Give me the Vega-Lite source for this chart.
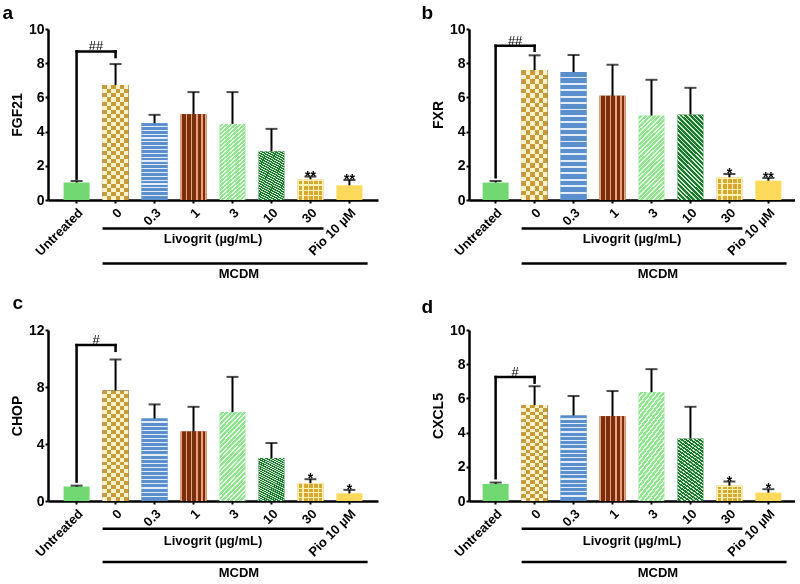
{
"$schema":"https://vega.github.io/schema/vega-lite/v6.json",
"padding":{"left":2,"top":4,"right":0,"bottom":0},
"datasets":{
"ba":[{"g":"Untreated","v":1.02,"e":1.11,"s":""},{"g":"0","v":6.72,"e":7.95,"s":""},{"g":"0.3","v":4.49,"e":4.98,"s":""},{"g":"1","v":5.02,"e":6.31,"s":""},{"g":"3","v":4.45,"e":6.31,"s":""},{"g":"10","v":2.85,"e":4.16,"s":""},{"g":"30","v":1.21,"e":1.37,"s":"**"},{"g":"Pio 10 µM","v":0.86,"e":1.17,"s":"**"}],
"bb":[{"g":"Untreated","v":1.02,"e":1.11,"s":""},{"g":"0","v":7.6,"e":8.46,"s":""},{"g":"0.3","v":7.48,"e":8.48,"s":""},{"g":"1","v":6.09,"e":7.91,"s":""},{"g":"3","v":4.94,"e":7.03,"s":""},{"g":"10","v":5.0,"e":6.56,"s":""},{"g":"30","v":1.33,"e":1.52,"s":"*"},{"g":"Pio 10 µM","v":1.13,"e":1.29,"s":"**"}],
"bc":[{"g":"Untreated","v":1.01,"e":1.08,"s":""},{"g":"0","v":7.76,"e":9.93,"s":""},{"g":"0.3","v":5.79,"e":6.78,"s":""},{"g":"1","v":4.87,"e":6.61,"s":""},{"g":"3","v":6.24,"e":8.71,"s":""},{"g":"10","v":3.01,"e":4.07,"s":""},{"g":"30","v":1.25,"e":1.53,"s":"*"},{"g":"Pio 10 µM","v":0.54,"e":0.78,"s":"*"}],
"bd":[{"g":"Untreated","v":1.0,"e":1.08,"s":""},{"g":"0","v":5.61,"e":6.71,"s":""},{"g":"0.3","v":5.0,"e":6.14,"s":""},{"g":"1","v":4.96,"e":6.43,"s":""},{"g":"3","v":6.37,"e":7.71,"s":""},{"g":"10","v":3.65,"e":5.51,"s":""},{"g":"30","v":0.9,"e":1.14,"s":"*"},{"g":"Pio 10 µM","v":0.49,"e":0.69,"s":"*"}],
"ka":[{"top":8.69,"lo":1.25,"hi":8.36,"lab":"##"}],
"kb":[{"top":9.02,"lo":1.33,"hi":8.73,"lab":"##"}],
"kc":[{"top":10.94,"lo":1.36,"hi":10.54,"lab":"#"}],
"kd":[{"top":7.25,"lo":1.33,"hi":6.92,"lab":"#"}]
},
"spacing":12,
"resolve":{"scale":{"x":"independent","y":"independent","color":"independent"},"axis":{"x":"independent","y":"independent"}},
"vconcat":[
{"hconcat":[
{"title":{"text":"a","dx":-8,"offset":-1},"width":330,"height":171,"data":{"name":"ba"},
"layer":[
{"mark":{"type":"bar"},"encoding":{"x":{"field":"g","type":"nominal","scale":{"domain":["Untreated","0","0.3","1","3","10","30","Pio 10 µM"],"paddingInner":0.333,"paddingOuter":0.4},"axis":{"title":null,"labelAngle":-45}},"y":{"field":"v","type":"quantitative","scale":{"domain":[0,10],"nice":false},"axis":{"tickCount":5,"title":"FGF21"}},"color":{"field":"g","type":"nominal","scale":{"domain":["Untreated","0","0.3","1","3","10","30","Pio 10 µM"],"range":["#72d872","#c99a3a","#5a8fcb","#7b2e0e","#8fe68f","#1a7a2c","#d8a830","#fcd95a"]},"legend":null}}},
{"transform":[{"filter":"datum.g=='0'"}],"mark":{"type":"bar","style":"c0v"},"encoding":{"x":{"field":"g","type":"nominal"},"y":{"field":"v","type":"quantitative"}}},
{"transform":[{"filter":"datum.g=='0'"}],"mark":{"type":"bar","style":"c0h","blend":"difference"},"encoding":{"x":{"field":"g","type":"nominal"},"y":{"field":"v","type":"quantitative"}}},
{"transform":[{"filter":"datum.g=='0'"}],"mark":{"type":"bar","color":"#c99a3a","blend":"screen"},"encoding":{"x":{"field":"g","type":"nominal"},"y":{"field":"v","type":"quantitative"}}},
{"transform":[{"filter":"datum.g=='30'"}],"mark":{"type":"bar","style":"g30v"},"encoding":{"x":{"field":"g","type":"nominal"},"y":{"field":"v","type":"quantitative"}}},
{"transform":[{"filter":"datum.g=='30'"}],"mark":{"type":"bar","style":"g30h"},"encoding":{"x":{"field":"g","type":"nominal"},"y":{"field":"v","type":"quantitative"}}},
{"transform":[{"filter":"datum.g=='3'"}],"mark":{"type":"bar","style":"dg1"},"encoding":{"x":{"field":"g","type":"nominal"},"y":{"field":"v","type":"quantitative"}}},
{"transform":[{"filter":"datum.g=='10'"}],"mark":{"type":"bar","style":"dg2"},"encoding":{"x":{"field":"g","type":"nominal"},"y":{"field":"v","type":"quantitative"}}},
{"transform":[{"filter":"datum.g=='0.3'"}],"mark":{"type":"bar","style":"s03"},"encoding":{"x":{"field":"g","type":"nominal"},"y":{"field":"v","type":"quantitative"}}},
{"transform":[{"filter":"datum.g=='1'"}],"mark":{"type":"bar","style":"s1"},"encoding":{"x":{"field":"g","type":"nominal"},"y":{"field":"v","type":"quantitative"}}},
{"mark":{"type":"rule","color":"black","strokeWidth":2},"encoding":{"x":{"field":"g","type":"nominal"},"y":{"field":"v","type":"quantitative"},"y2":{"field":"e"}}},
{"mark":{"type":"tick","color":"black","thickness":2,"size":12},"encoding":{"x":{"field":"g","type":"nominal"},"y":{"field":"e","type":"quantitative"}}},
{"transform":[{"filter":"datum.s!=''"}],"mark":{"type":"text","fontSize":14,"fontWeight":"bold","baseline":"alphabetic","dy":4},"encoding":{"x":{"field":"g","type":"nominal"},"y":{"field":"e","type":"quantitative"},"text":{"field":"s"}}},
{"data":{"name":"ka"},"mark":{"type":"rule","color":"black","strokeWidth":2.5,"strokeCap":"square"},"encoding":{"x":{"datum":"Untreated"},"x2":{"datum":"0"},"y":{"field":"top","type":"quantitative"}}},
{"data":{"name":"ka"},"mark":{"type":"rule","color":"black","strokeWidth":2.5,"strokeCap":"square"},"encoding":{"x":{"datum":"Untreated"},"y":{"field":"lo","type":"quantitative"},"y2":{"field":"top"}}},
{"data":{"name":"ka"},"mark":{"type":"rule","color":"black","strokeWidth":2.5,"strokeCap":"square"},"encoding":{"x":{"datum":"0"},"y":{"field":"hi","type":"quantitative"},"y2":{"field":"top"}}},
{"data":{"name":"ka"},"mark":{"type":"text","fontSize":13,"baseline":"alphabetic","dy":-1},"encoding":{"x":{"datum":"Untreated","bandPosition":1.25},"y":{"field":"top","type":"quantitative"},"text":{"field":"lab"}}},
{"data":{"values":[{}]},"mark":{"type":"rule","color":"black","strokeWidth":2.5},"encoding":{"x":{"datum":"0","bandPosition":0},"x2":{"datum":"30","bandPosition":1},"y":{"datum":-1.66}}},
{"data":{"values":[{}]},"mark":{"type":"rule","color":"black","strokeWidth":2.5},"encoding":{"x":{"datum":"0","bandPosition":0},"x2":{"datum":"Pio 10 µM","bandPosition":1.2},"y":{"datum":-3.71}}},
{"data":{"values":[{}]},"mark":{"type":"text","fontSize":13,"fontWeight":"bold"},"encoding":{"x":{"datum":"1","bandPosition":1.25},"y":{"datum":-2.28},"text":{"value":"Livogrit (µg/mL)"}}},
{"data":{"values":[{}]},"mark":{"type":"text","fontSize":13,"fontWeight":"bold"},"encoding":{"x":{"datum":"3","bandPosition":0.75},"y":{"datum":-4.33},"text":{"value":"MCDM"}}}
]},
{"title":{"text":"b","dx":-10,"offset":-1},"width":326,"height":171,"data":{"name":"bb"},
"layer":[
{"mark":{"type":"bar"},"encoding":{"x":{"field":"g","type":"nominal","scale":{"domain":["Untreated","0","0.3","1","3","10","30","Pio 10 µM"],"paddingInner":0.333,"paddingOuter":0.35},"axis":{"title":null,"labelAngle":-45}},"y":{"field":"v","type":"quantitative","scale":{"domain":[0,10],"nice":false},"axis":{"tickCount":5,"title":"FXR"}},"color":{"field":"g","type":"nominal","scale":{"domain":["Untreated","0","0.3","1","3","10","30","Pio 10 µM"],"range":["#72d872","#c99a3a","#5a8fcb","#7b2e0e","#8fe68f","#1a7a2c","#d8a830","#fcd95a"]},"legend":null}}},
{"transform":[{"filter":"datum.g=='0'"}],"mark":{"type":"bar","style":"c0v"},"encoding":{"x":{"field":"g","type":"nominal"},"y":{"field":"v","type":"quantitative"}}},
{"transform":[{"filter":"datum.g=='0'"}],"mark":{"type":"bar","style":"c0h","blend":"difference"},"encoding":{"x":{"field":"g","type":"nominal"},"y":{"field":"v","type":"quantitative"}}},
{"transform":[{"filter":"datum.g=='0'"}],"mark":{"type":"bar","color":"#c99a3a","blend":"screen"},"encoding":{"x":{"field":"g","type":"nominal"},"y":{"field":"v","type":"quantitative"}}},
{"transform":[{"filter":"datum.g=='30'"}],"mark":{"type":"bar","style":"g30v"},"encoding":{"x":{"field":"g","type":"nominal"},"y":{"field":"v","type":"quantitative"}}},
{"transform":[{"filter":"datum.g=='30'"}],"mark":{"type":"bar","style":"g30h"},"encoding":{"x":{"field":"g","type":"nominal"},"y":{"field":"v","type":"quantitative"}}},
{"transform":[{"filter":"datum.g=='3'"}],"mark":{"type":"bar","style":"dg1"},"encoding":{"x":{"field":"g","type":"nominal"},"y":{"field":"v","type":"quantitative"}}},
{"transform":[{"filter":"datum.g=='10'"}],"mark":{"type":"bar","style":"dg2"},"encoding":{"x":{"field":"g","type":"nominal"},"y":{"field":"v","type":"quantitative"}}},
{"transform":[{"filter":"datum.g=='0.3'"}],"mark":{"type":"bar","style":"s03"},"encoding":{"x":{"field":"g","type":"nominal"},"y":{"field":"v","type":"quantitative"}}},
{"transform":[{"filter":"datum.g=='1'"}],"mark":{"type":"bar","style":"s1"},"encoding":{"x":{"field":"g","type":"nominal"},"y":{"field":"v","type":"quantitative"}}},
{"mark":{"type":"rule","color":"black","strokeWidth":2},"encoding":{"x":{"field":"g","type":"nominal"},"y":{"field":"v","type":"quantitative"},"y2":{"field":"e"}}},
{"mark":{"type":"tick","color":"black","thickness":2,"size":12},"encoding":{"x":{"field":"g","type":"nominal"},"y":{"field":"e","type":"quantitative"}}},
{"transform":[{"filter":"datum.s!=''"}],"mark":{"type":"text","fontSize":14,"fontWeight":"bold","baseline":"alphabetic","dy":4},"encoding":{"x":{"field":"g","type":"nominal"},"y":{"field":"e","type":"quantitative"},"text":{"field":"s"}}},
{"data":{"name":"kb"},"mark":{"type":"rule","color":"black","strokeWidth":2.5,"strokeCap":"square"},"encoding":{"x":{"datum":"Untreated"},"x2":{"datum":"0"},"y":{"field":"top","type":"quantitative"}}},
{"data":{"name":"kb"},"mark":{"type":"rule","color":"black","strokeWidth":2.5,"strokeCap":"square"},"encoding":{"x":{"datum":"Untreated"},"y":{"field":"lo","type":"quantitative"},"y2":{"field":"top"}}},
{"data":{"name":"kb"},"mark":{"type":"rule","color":"black","strokeWidth":2.5,"strokeCap":"square"},"encoding":{"x":{"datum":"0"},"y":{"field":"hi","type":"quantitative"},"y2":{"field":"top"}}},
{"data":{"name":"kb"},"mark":{"type":"text","fontSize":13,"baseline":"alphabetic","dy":-1},"encoding":{"x":{"datum":"Untreated","bandPosition":1.25},"y":{"field":"top","type":"quantitative"},"text":{"field":"lab"}}},
{"data":{"values":[{}]},"mark":{"type":"rule","color":"black","strokeWidth":2.5},"encoding":{"x":{"datum":"0","bandPosition":0},"x2":{"datum":"30","bandPosition":1},"y":{"datum":-1.66}}},
{"data":{"values":[{}]},"mark":{"type":"rule","color":"black","strokeWidth":2.5},"encoding":{"x":{"datum":"0","bandPosition":0},"x2":{"datum":"Pio 10 µM","bandPosition":1.2},"y":{"datum":-3.71}}},
{"data":{"values":[{}]},"mark":{"type":"text","fontSize":13,"fontWeight":"bold"},"encoding":{"x":{"datum":"1","bandPosition":1.25},"y":{"datum":-2.28},"text":{"value":"Livogrit (µg/mL)"}}},
{"data":{"values":[{}]},"mark":{"type":"text","fontSize":13,"fontWeight":"bold"},"encoding":{"x":{"datum":"3","bandPosition":0.75},"y":{"datum":-4.33},"text":{"value":"MCDM"}}}
]}
],"spacing":43,"resolve":{"scale":{"x":"independent","y":"independent","color":"independent"},"axis":{"x":"independent","y":"independent"}}},
{"hconcat":[
{"title":{"text":"c","dx":2,"offset":10},"width":330,"height":171,"data":{"name":"bc"},
"layer":[
{"mark":{"type":"bar"},"encoding":{"x":{"field":"g","type":"nominal","scale":{"domain":["Untreated","0","0.3","1","3","10","30","Pio 10 µM"],"paddingInner":0.333,"paddingOuter":0.4},"axis":{"title":null,"labelAngle":-45}},"y":{"field":"v","type":"quantitative","scale":{"domain":[0,12],"nice":false},"axis":{"values":[0,4,8,12],"title":"CHOP"}},"color":{"field":"g","type":"nominal","scale":{"domain":["Untreated","0","0.3","1","3","10","30","Pio 10 µM"],"range":["#72d872","#c99a3a","#5a8fcb","#7b2e0e","#8fe68f","#1a7a2c","#d8a830","#fcd95a"]},"legend":null}}},
{"transform":[{"filter":"datum.g=='0'"}],"mark":{"type":"bar","style":"c0v"},"encoding":{"x":{"field":"g","type":"nominal"},"y":{"field":"v","type":"quantitative"}}},
{"transform":[{"filter":"datum.g=='0'"}],"mark":{"type":"bar","style":"c0h","blend":"difference"},"encoding":{"x":{"field":"g","type":"nominal"},"y":{"field":"v","type":"quantitative"}}},
{"transform":[{"filter":"datum.g=='0'"}],"mark":{"type":"bar","color":"#c99a3a","blend":"screen"},"encoding":{"x":{"field":"g","type":"nominal"},"y":{"field":"v","type":"quantitative"}}},
{"transform":[{"filter":"datum.g=='30'"}],"mark":{"type":"bar","style":"g30v"},"encoding":{"x":{"field":"g","type":"nominal"},"y":{"field":"v","type":"quantitative"}}},
{"transform":[{"filter":"datum.g=='30'"}],"mark":{"type":"bar","style":"g30h"},"encoding":{"x":{"field":"g","type":"nominal"},"y":{"field":"v","type":"quantitative"}}},
{"transform":[{"filter":"datum.g=='3'"}],"mark":{"type":"bar","style":"dg1"},"encoding":{"x":{"field":"g","type":"nominal"},"y":{"field":"v","type":"quantitative"}}},
{"transform":[{"filter":"datum.g=='10'"}],"mark":{"type":"bar","style":"dg2"},"encoding":{"x":{"field":"g","type":"nominal"},"y":{"field":"v","type":"quantitative"}}},
{"transform":[{"filter":"datum.g=='0.3'"}],"mark":{"type":"bar","style":"s03"},"encoding":{"x":{"field":"g","type":"nominal"},"y":{"field":"v","type":"quantitative"}}},
{"transform":[{"filter":"datum.g=='1'"}],"mark":{"type":"bar","style":"s1"},"encoding":{"x":{"field":"g","type":"nominal"},"y":{"field":"v","type":"quantitative"}}},
{"mark":{"type":"rule","color":"black","strokeWidth":2},"encoding":{"x":{"field":"g","type":"nominal"},"y":{"field":"v","type":"quantitative"},"y2":{"field":"e"}}},
{"mark":{"type":"tick","color":"black","thickness":2,"size":12},"encoding":{"x":{"field":"g","type":"nominal"},"y":{"field":"e","type":"quantitative"}}},
{"transform":[{"filter":"datum.s!=''"}],"mark":{"type":"text","fontSize":14,"fontWeight":"bold","baseline":"alphabetic","dy":4},"encoding":{"x":{"field":"g","type":"nominal"},"y":{"field":"e","type":"quantitative"},"text":{"field":"s"}}},
{"data":{"name":"kc"},"mark":{"type":"rule","color":"black","strokeWidth":2.5,"strokeCap":"square"},"encoding":{"x":{"datum":"Untreated"},"x2":{"datum":"0"},"y":{"field":"top","type":"quantitative"}}},
{"data":{"name":"kc"},"mark":{"type":"rule","color":"black","strokeWidth":2.5,"strokeCap":"square"},"encoding":{"x":{"datum":"Untreated"},"y":{"field":"lo","type":"quantitative"},"y2":{"field":"top"}}},
{"data":{"name":"kc"},"mark":{"type":"rule","color":"black","strokeWidth":2.5,"strokeCap":"square"},"encoding":{"x":{"datum":"0"},"y":{"field":"hi","type":"quantitative"},"y2":{"field":"top"}}},
{"data":{"name":"kc"},"mark":{"type":"text","fontSize":13,"baseline":"alphabetic","dy":-1},"encoding":{"x":{"datum":"Untreated","bandPosition":1.25},"y":{"field":"top","type":"quantitative"},"text":{"field":"lab"}}},
{"data":{"values":[{}]},"mark":{"type":"rule","color":"black","strokeWidth":2.5},"encoding":{"x":{"datum":"0","bandPosition":0},"x2":{"datum":"30","bandPosition":1},"y":{"datum":-1.94}}},
{"data":{"values":[{}]},"mark":{"type":"rule","color":"black","strokeWidth":2.5},"encoding":{"x":{"datum":"0","bandPosition":0},"x2":{"datum":"Pio 10 µM","bandPosition":1.2},"y":{"datum":-4.28}}},
{"data":{"values":[{}]},"mark":{"type":"text","fontSize":13,"fontWeight":"bold"},"encoding":{"x":{"datum":"1","bandPosition":1.25},"y":{"datum":-2.81},"text":{"value":"Livogrit (µg/mL)"}}},
{"data":{"values":[{}]},"mark":{"type":"text","fontSize":13,"fontWeight":"bold"},"encoding":{"x":{"datum":"3","bandPosition":0.75},"y":{"datum":-5.02},"text":{"value":"MCDM"}}}
]},
{"title":{"text":"d","dx":-10,"offset":6},"width":326,"height":171,"data":{"name":"bd"},
"layer":[
{"mark":{"type":"bar"},"encoding":{"x":{"field":"g","type":"nominal","scale":{"domain":["Untreated","0","0.3","1","3","10","30","Pio 10 µM"],"paddingInner":0.333,"paddingOuter":0.35},"axis":{"title":null,"labelAngle":-45}},"y":{"field":"v","type":"quantitative","scale":{"domain":[0,10],"nice":false},"axis":{"tickCount":5,"title":"CXCL5"}},"color":{"field":"g","type":"nominal","scale":{"domain":["Untreated","0","0.3","1","3","10","30","Pio 10 µM"],"range":["#72d872","#c99a3a","#5a8fcb","#7b2e0e","#8fe68f","#1a7a2c","#d8a830","#fcd95a"]},"legend":null}}},
{"transform":[{"filter":"datum.g=='0'"}],"mark":{"type":"bar","style":"c0v"},"encoding":{"x":{"field":"g","type":"nominal"},"y":{"field":"v","type":"quantitative"}}},
{"transform":[{"filter":"datum.g=='0'"}],"mark":{"type":"bar","style":"c0h","blend":"difference"},"encoding":{"x":{"field":"g","type":"nominal"},"y":{"field":"v","type":"quantitative"}}},
{"transform":[{"filter":"datum.g=='0'"}],"mark":{"type":"bar","color":"#c99a3a","blend":"screen"},"encoding":{"x":{"field":"g","type":"nominal"},"y":{"field":"v","type":"quantitative"}}},
{"transform":[{"filter":"datum.g=='30'"}],"mark":{"type":"bar","style":"g30v"},"encoding":{"x":{"field":"g","type":"nominal"},"y":{"field":"v","type":"quantitative"}}},
{"transform":[{"filter":"datum.g=='30'"}],"mark":{"type":"bar","style":"g30h"},"encoding":{"x":{"field":"g","type":"nominal"},"y":{"field":"v","type":"quantitative"}}},
{"transform":[{"filter":"datum.g=='3'"}],"mark":{"type":"bar","style":"dg1"},"encoding":{"x":{"field":"g","type":"nominal"},"y":{"field":"v","type":"quantitative"}}},
{"transform":[{"filter":"datum.g=='10'"}],"mark":{"type":"bar","style":"dg2"},"encoding":{"x":{"field":"g","type":"nominal"},"y":{"field":"v","type":"quantitative"}}},
{"transform":[{"filter":"datum.g=='0.3'"}],"mark":{"type":"bar","style":"s03"},"encoding":{"x":{"field":"g","type":"nominal"},"y":{"field":"v","type":"quantitative"}}},
{"transform":[{"filter":"datum.g=='1'"}],"mark":{"type":"bar","style":"s1"},"encoding":{"x":{"field":"g","type":"nominal"},"y":{"field":"v","type":"quantitative"}}},
{"mark":{"type":"rule","color":"black","strokeWidth":2},"encoding":{"x":{"field":"g","type":"nominal"},"y":{"field":"v","type":"quantitative"},"y2":{"field":"e"}}},
{"mark":{"type":"tick","color":"black","thickness":2,"size":12},"encoding":{"x":{"field":"g","type":"nominal"},"y":{"field":"e","type":"quantitative"}}},
{"transform":[{"filter":"datum.s!=''"}],"mark":{"type":"text","fontSize":14,"fontWeight":"bold","baseline":"alphabetic","dy":4},"encoding":{"x":{"field":"g","type":"nominal"},"y":{"field":"e","type":"quantitative"},"text":{"field":"s"}}},
{"data":{"name":"kd"},"mark":{"type":"rule","color":"black","strokeWidth":2.5,"strokeCap":"square"},"encoding":{"x":{"datum":"Untreated"},"x2":{"datum":"0"},"y":{"field":"top","type":"quantitative"}}},
{"data":{"name":"kd"},"mark":{"type":"rule","color":"black","strokeWidth":2.5,"strokeCap":"square"},"encoding":{"x":{"datum":"Untreated"},"y":{"field":"lo","type":"quantitative"},"y2":{"field":"top"}}},
{"data":{"name":"kd"},"mark":{"type":"rule","color":"black","strokeWidth":2.5,"strokeCap":"square"},"encoding":{"x":{"datum":"0"},"y":{"field":"hi","type":"quantitative"},"y2":{"field":"top"}}},
{"data":{"name":"kd"},"mark":{"type":"text","fontSize":13,"baseline":"alphabetic","dy":-1},"encoding":{"x":{"datum":"Untreated","bandPosition":1.25},"y":{"field":"top","type":"quantitative"},"text":{"field":"lab"}}},
{"data":{"values":[{}]},"mark":{"type":"rule","color":"black","strokeWidth":2.5},"encoding":{"x":{"datum":"0","bandPosition":0},"x2":{"datum":"30","bandPosition":1},"y":{"datum":-1.62}}},
{"data":{"values":[{}]},"mark":{"type":"rule","color":"black","strokeWidth":2.5},"encoding":{"x":{"datum":"0","bandPosition":0},"x2":{"datum":"Pio 10 µM","bandPosition":1.2},"y":{"datum":-3.57}}},
{"data":{"values":[{}]},"mark":{"type":"text","fontSize":13,"fontWeight":"bold"},"encoding":{"x":{"datum":"1","bandPosition":1.25},"y":{"datum":-2.34},"text":{"value":"Livogrit (µg/mL)"}}},
{"data":{"values":[{}]},"mark":{"type":"text","fontSize":13,"fontWeight":"bold"},"encoding":{"x":{"datum":"3","bandPosition":0.75},"y":{"datum":-4.2},"text":{"value":"MCDM"}}}
]}
],"spacing":43,"resolve":{"scale":{"x":"independent","y":"independent","color":"independent"},"axis":{"x":"independent","y":"independent"}}}
],
"config":{
"font":"Liberation Sans",
"view":{"stroke":null},
"axis":{"domainColor":"black","domainWidth":2.5,"tickColor":"black","tickWidth":2,"tickSize":3,"labelColor":"black","labelFont":"Liberation Sans","labelFontWeight":"bold","labelFontSize":13,"titleFont":"Liberation Sans","titleFontWeight":"bold","titleFontSize":14,"titleColor":"black","grid":false,"labelPadding":1,"labelOverlap":false},
"axisY":{"titlePadding":4,"labelFontSize":14},
"axisX":{"labelPadding":3},
"title":{"anchor":"start","frame":"bounds","fontSize":19,"fontWeight":"bold","font":"Liberation Sans","color":"black"},
"style":{
"c0v":{"color":{"gradient":"linear","x1":0,"y1":0,"x2":1,"y2":0,"stops":[
{"offset":0,"color":"#ffdeb8"},{"offset":0.1667,"color":"#ffdeb8"},{"offset":0.1667,"color":"#000000"},{"offset":0.3333,"color":"#000000"},
{"offset":0.3333,"color":"#ffdeb8"},{"offset":0.5,"color":"#ffdeb8"},{"offset":0.5,"color":"#000000"},{"offset":0.6667,"color":"#000000"},
{"offset":0.6667,"color":"#ffdeb8"},{"offset":0.8333,"color":"#ffdeb8"},{"offset":0.8333,"color":"#000000"},{"offset":1,"color":"#000000"}
]}},
"c0h":{"color":{"gradient":"linear","x1":0,"y1":0,"x2":0,"y2":1,"stops":[
{"offset":0,"color":"#ffdeb8"},{"offset":0.0357,"color":"#ffdeb8"},{"offset":0.0357,"color":"#000000"},{"offset":0.0714,"color":"#000000"},
{"offset":0.0714,"color":"#ffdeb8"},{"offset":0.1071,"color":"#ffdeb8"},{"offset":0.1071,"color":"#000000"},{"offset":0.1429,"color":"#000000"},
{"offset":0.1429,"color":"#ffdeb8"},{"offset":0.1786,"color":"#ffdeb8"},{"offset":0.1786,"color":"#000000"},{"offset":0.2143,"color":"#000000"},
{"offset":0.2143,"color":"#ffdeb8"},{"offset":0.25,"color":"#ffdeb8"},{"offset":0.25,"color":"#000000"},{"offset":0.2857,"color":"#000000"},
{"offset":0.2857,"color":"#ffdeb8"},{"offset":0.3214,"color":"#ffdeb8"},{"offset":0.3214,"color":"#000000"},{"offset":0.3571,"color":"#000000"},
{"offset":0.3571,"color":"#ffdeb8"},{"offset":0.3929,"color":"#ffdeb8"},{"offset":0.3929,"color":"#000000"},{"offset":0.4286,"color":"#000000"},
{"offset":0.4286,"color":"#ffdeb8"},{"offset":0.4643,"color":"#ffdeb8"},{"offset":0.4643,"color":"#000000"},{"offset":0.5,"color":"#000000"},
{"offset":0.5,"color":"#ffdeb8"},{"offset":0.5357,"color":"#ffdeb8"},{"offset":0.5357,"color":"#000000"},{"offset":0.5714,"color":"#000000"},
{"offset":0.5714,"color":"#ffdeb8"},{"offset":0.6071,"color":"#ffdeb8"},{"offset":0.6071,"color":"#000000"},{"offset":0.6429,"color":"#000000"},
{"offset":0.6429,"color":"#ffdeb8"},{"offset":0.6786,"color":"#ffdeb8"},{"offset":0.6786,"color":"#000000"},{"offset":0.7143,"color":"#000000"},
{"offset":0.7143,"color":"#ffdeb8"},{"offset":0.75,"color":"#ffdeb8"},{"offset":0.75,"color":"#000000"},{"offset":0.7857,"color":"#000000"},
{"offset":0.7857,"color":"#ffdeb8"},{"offset":0.8214,"color":"#ffdeb8"},{"offset":0.8214,"color":"#000000"},{"offset":0.8571,"color":"#000000"},
{"offset":0.8571,"color":"#ffdeb8"},{"offset":0.8929,"color":"#ffdeb8"},{"offset":0.8929,"color":"#000000"},{"offset":0.9286,"color":"#000000"},
{"offset":0.9286,"color":"#ffdeb8"},{"offset":0.9643,"color":"#ffdeb8"},{"offset":0.9643,"color":"#000000"},{"offset":1,"color":"#000000"}
]}},
"g30v":{"color":{"gradient":"linear","x1":0,"y1":0,"x2":1,"y2":0,"stops":[
{"offset":0,"color":"#fff0b4"},{"offset":0.05,"color":"#fff0b4"},{"offset":0.05,"color":"rgba(255,240,180,0)"},{"offset":0.19,"color":"rgba(255,240,180,0)"},
{"offset":0.19,"color":"#fff0b4"},{"offset":0.24,"color":"#fff0b4"},{"offset":0.24,"color":"rgba(255,240,180,0)"},{"offset":0.39,"color":"rgba(255,240,180,0)"},
{"offset":0.39,"color":"#fff0b4"},{"offset":0.44,"color":"#fff0b4"},{"offset":0.44,"color":"rgba(255,240,180,0)"},{"offset":0.59,"color":"rgba(255,240,180,0)"},
{"offset":0.59,"color":"#fff0b4"},{"offset":0.64,"color":"#fff0b4"},{"offset":0.64,"color":"rgba(255,240,180,0)"},{"offset":0.79,"color":"rgba(255,240,180,0)"},
{"offset":0.79,"color":"#fff0b4"},{"offset":0.84,"color":"#fff0b4"},{"offset":0.84,"color":"rgba(255,240,180,0)"},{"offset":0.95,"color":"rgba(255,240,180,0)"},
{"offset":0.95,"color":"#fff0b4"},{"offset":1,"color":"#fff0b4"}
]}},
"g30h":{"color":{"gradient":"linear","x1":0,"y1":0,"x2":0,"y2":1,"stops":[
{"offset":0,"color":"#fff0b4"},{"offset":0.07,"color":"#fff0b4"},{"offset":0.07,"color":"rgba(255,240,180,0)"},{"offset":0.25,"color":"rgba(255,240,180,0)"},
{"offset":0.25,"color":"#fff0b4"},{"offset":0.31,"color":"#fff0b4"},{"offset":0.31,"color":"rgba(255,240,180,0)"},{"offset":0.5,"color":"rgba(255,240,180,0)"},
{"offset":0.5,"color":"#fff0b4"},{"offset":0.56,"color":"#fff0b4"},{"offset":0.56,"color":"rgba(255,240,180,0)"},{"offset":0.75,"color":"rgba(255,240,180,0)"},
{"offset":0.75,"color":"#fff0b4"},{"offset":0.81,"color":"#fff0b4"},{"offset":0.81,"color":"rgba(255,240,180,0)"},{"offset":1,"color":"rgba(255,240,180,0)"}
]}},
"dg1":{"color":{"gradient":"linear","x1":0,"y1":0,"x2":0.36,"y2":1.2,"stops":[
{"offset":0,"color":"rgba(255,255,255,0.8)"},{"offset":0.015,"color":"rgba(255,255,255,0.8)"},{"offset":0.015,"color":"rgba(255,255,255,0)"},{"offset":0.04,"color":"rgba(255,255,255,0)"},
{"offset":0.04,"color":"rgba(255,255,255,0.8)"},{"offset":0.055,"color":"rgba(255,255,255,0.8)"},{"offset":0.055,"color":"rgba(255,255,255,0)"},{"offset":0.08,"color":"rgba(255,255,255,0)"},
{"offset":0.08,"color":"rgba(255,255,255,0.8)"},{"offset":0.095,"color":"rgba(255,255,255,0.8)"},{"offset":0.095,"color":"rgba(255,255,255,0)"},{"offset":0.12,"color":"rgba(255,255,255,0)"},
{"offset":0.12,"color":"rgba(255,255,255,0.8)"},{"offset":0.135,"color":"rgba(255,255,255,0.8)"},{"offset":0.135,"color":"rgba(255,255,255,0)"},{"offset":0.16,"color":"rgba(255,255,255,0)"},
{"offset":0.16,"color":"rgba(255,255,255,0.8)"},{"offset":0.175,"color":"rgba(255,255,255,0.8)"},{"offset":0.175,"color":"rgba(255,255,255,0)"},{"offset":0.2,"color":"rgba(255,255,255,0)"},
{"offset":0.2,"color":"rgba(255,255,255,0.8)"},{"offset":0.215,"color":"rgba(255,255,255,0.8)"},{"offset":0.215,"color":"rgba(255,255,255,0)"},{"offset":0.24,"color":"rgba(255,255,255,0)"},
{"offset":0.24,"color":"rgba(255,255,255,0.8)"},{"offset":0.255,"color":"rgba(255,255,255,0.8)"},{"offset":0.255,"color":"rgba(255,255,255,0)"},{"offset":0.28,"color":"rgba(255,255,255,0)"},
{"offset":0.28,"color":"rgba(255,255,255,0.8)"},{"offset":0.295,"color":"rgba(255,255,255,0.8)"},{"offset":0.295,"color":"rgba(255,255,255,0)"},{"offset":0.32,"color":"rgba(255,255,255,0)"},
{"offset":0.32,"color":"rgba(255,255,255,0.8)"},{"offset":0.335,"color":"rgba(255,255,255,0.8)"},{"offset":0.335,"color":"rgba(255,255,255,0)"},{"offset":0.36,"color":"rgba(255,255,255,0)"},
{"offset":0.36,"color":"rgba(255,255,255,0.8)"},{"offset":0.375,"color":"rgba(255,255,255,0.8)"},{"offset":0.375,"color":"rgba(255,255,255,0)"},{"offset":0.4,"color":"rgba(255,255,255,0)"},
{"offset":0.4,"color":"rgba(255,255,255,0.8)"},{"offset":0.415,"color":"rgba(255,255,255,0.8)"},{"offset":0.415,"color":"rgba(255,255,255,0)"},{"offset":0.44,"color":"rgba(255,255,255,0)"},
{"offset":0.44,"color":"rgba(255,255,255,0.8)"},{"offset":0.455,"color":"rgba(255,255,255,0.8)"},{"offset":0.455,"color":"rgba(255,255,255,0)"},{"offset":0.48,"color":"rgba(255,255,255,0)"},
{"offset":0.48,"color":"rgba(255,255,255,0.8)"},{"offset":0.495,"color":"rgba(255,255,255,0.8)"},{"offset":0.495,"color":"rgba(255,255,255,0)"},{"offset":0.52,"color":"rgba(255,255,255,0)"},
{"offset":0.52,"color":"rgba(255,255,255,0.8)"},{"offset":0.535,"color":"rgba(255,255,255,0.8)"},{"offset":0.535,"color":"rgba(255,255,255,0)"},{"offset":0.56,"color":"rgba(255,255,255,0)"},
{"offset":0.56,"color":"rgba(255,255,255,0.8)"},{"offset":0.575,"color":"rgba(255,255,255,0.8)"},{"offset":0.575,"color":"rgba(255,255,255,0)"},{"offset":0.6,"color":"rgba(255,255,255,0)"},
{"offset":0.6,"color":"rgba(255,255,255,0.8)"},{"offset":0.615,"color":"rgba(255,255,255,0.8)"},{"offset":0.615,"color":"rgba(255,255,255,0)"},{"offset":0.64,"color":"rgba(255,255,255,0)"},
{"offset":0.64,"color":"rgba(255,255,255,0.8)"},{"offset":0.655,"color":"rgba(255,255,255,0.8)"},{"offset":0.655,"color":"rgba(255,255,255,0)"},{"offset":0.68,"color":"rgba(255,255,255,0)"},
{"offset":0.68,"color":"rgba(255,255,255,0.8)"},{"offset":0.695,"color":"rgba(255,255,255,0.8)"},{"offset":0.695,"color":"rgba(255,255,255,0)"},{"offset":0.72,"color":"rgba(255,255,255,0)"},
{"offset":0.72,"color":"rgba(255,255,255,0.8)"},{"offset":0.735,"color":"rgba(255,255,255,0.8)"},{"offset":0.735,"color":"rgba(255,255,255,0)"},{"offset":0.76,"color":"rgba(255,255,255,0)"},
{"offset":0.76,"color":"rgba(255,255,255,0.8)"},{"offset":0.775,"color":"rgba(255,255,255,0.8)"},{"offset":0.775,"color":"rgba(255,255,255,0)"},{"offset":0.8,"color":"rgba(255,255,255,0)"},
{"offset":0.8,"color":"rgba(255,255,255,0.8)"},{"offset":0.815,"color":"rgba(255,255,255,0.8)"},{"offset":0.815,"color":"rgba(255,255,255,0)"},{"offset":0.84,"color":"rgba(255,255,255,0)"},
{"offset":0.84,"color":"rgba(255,255,255,0.8)"},{"offset":0.855,"color":"rgba(255,255,255,0.8)"},{"offset":0.855,"color":"rgba(255,255,255,0)"},{"offset":0.88,"color":"rgba(255,255,255,0)"},
{"offset":0.88,"color":"rgba(255,255,255,0.8)"},{"offset":0.895,"color":"rgba(255,255,255,0.8)"},{"offset":0.895,"color":"rgba(255,255,255,0)"},{"offset":0.92,"color":"rgba(255,255,255,0)"},
{"offset":0.92,"color":"rgba(255,255,255,0.8)"},{"offset":0.935,"color":"rgba(255,255,255,0.8)"},{"offset":0.935,"color":"rgba(255,255,255,0)"},{"offset":0.96,"color":"rgba(255,255,255,0)"},
{"offset":0.96,"color":"rgba(255,255,255,0.8)"},{"offset":0.975,"color":"rgba(255,255,255,0.8)"},{"offset":0.975,"color":"rgba(255,255,255,0)"},{"offset":1,"color":"rgba(255,255,255,0)"}
]}},
"dg2":{"color":{"gradient":"linear","x1":0,"y1":1,"x2":0.36,"y2":-0.2,"stops":[
{"offset":0,"color":"rgba(255,255,255,0.8)"},{"offset":0.015,"color":"rgba(255,255,255,0.8)"},{"offset":0.015,"color":"rgba(255,255,255,0)"},{"offset":0.04,"color":"rgba(255,255,255,0)"},
{"offset":0.04,"color":"rgba(255,255,255,0.8)"},{"offset":0.055,"color":"rgba(255,255,255,0.8)"},{"offset":0.055,"color":"rgba(255,255,255,0)"},{"offset":0.08,"color":"rgba(255,255,255,0)"},
{"offset":0.08,"color":"rgba(255,255,255,0.8)"},{"offset":0.095,"color":"rgba(255,255,255,0.8)"},{"offset":0.095,"color":"rgba(255,255,255,0)"},{"offset":0.12,"color":"rgba(255,255,255,0)"},
{"offset":0.12,"color":"rgba(255,255,255,0.8)"},{"offset":0.135,"color":"rgba(255,255,255,0.8)"},{"offset":0.135,"color":"rgba(255,255,255,0)"},{"offset":0.16,"color":"rgba(255,255,255,0)"},
{"offset":0.16,"color":"rgba(255,255,255,0.8)"},{"offset":0.175,"color":"rgba(255,255,255,0.8)"},{"offset":0.175,"color":"rgba(255,255,255,0)"},{"offset":0.2,"color":"rgba(255,255,255,0)"},
{"offset":0.2,"color":"rgba(255,255,255,0.8)"},{"offset":0.215,"color":"rgba(255,255,255,0.8)"},{"offset":0.215,"color":"rgba(255,255,255,0)"},{"offset":0.24,"color":"rgba(255,255,255,0)"},
{"offset":0.24,"color":"rgba(255,255,255,0.8)"},{"offset":0.255,"color":"rgba(255,255,255,0.8)"},{"offset":0.255,"color":"rgba(255,255,255,0)"},{"offset":0.28,"color":"rgba(255,255,255,0)"},
{"offset":0.28,"color":"rgba(255,255,255,0.8)"},{"offset":0.295,"color":"rgba(255,255,255,0.8)"},{"offset":0.295,"color":"rgba(255,255,255,0)"},{"offset":0.32,"color":"rgba(255,255,255,0)"},
{"offset":0.32,"color":"rgba(255,255,255,0.8)"},{"offset":0.335,"color":"rgba(255,255,255,0.8)"},{"offset":0.335,"color":"rgba(255,255,255,0)"},{"offset":0.36,"color":"rgba(255,255,255,0)"},
{"offset":0.36,"color":"rgba(255,255,255,0.8)"},{"offset":0.375,"color":"rgba(255,255,255,0.8)"},{"offset":0.375,"color":"rgba(255,255,255,0)"},{"offset":0.4,"color":"rgba(255,255,255,0)"},
{"offset":0.4,"color":"rgba(255,255,255,0.8)"},{"offset":0.415,"color":"rgba(255,255,255,0.8)"},{"offset":0.415,"color":"rgba(255,255,255,0)"},{"offset":0.44,"color":"rgba(255,255,255,0)"},
{"offset":0.44,"color":"rgba(255,255,255,0.8)"},{"offset":0.455,"color":"rgba(255,255,255,0.8)"},{"offset":0.455,"color":"rgba(255,255,255,0)"},{"offset":0.48,"color":"rgba(255,255,255,0)"},
{"offset":0.48,"color":"rgba(255,255,255,0.8)"},{"offset":0.495,"color":"rgba(255,255,255,0.8)"},{"offset":0.495,"color":"rgba(255,255,255,0)"},{"offset":0.52,"color":"rgba(255,255,255,0)"},
{"offset":0.52,"color":"rgba(255,255,255,0.8)"},{"offset":0.535,"color":"rgba(255,255,255,0.8)"},{"offset":0.535,"color":"rgba(255,255,255,0)"},{"offset":0.56,"color":"rgba(255,255,255,0)"},
{"offset":0.56,"color":"rgba(255,255,255,0.8)"},{"offset":0.575,"color":"rgba(255,255,255,0.8)"},{"offset":0.575,"color":"rgba(255,255,255,0)"},{"offset":0.6,"color":"rgba(255,255,255,0)"},
{"offset":0.6,"color":"rgba(255,255,255,0.8)"},{"offset":0.615,"color":"rgba(255,255,255,0.8)"},{"offset":0.615,"color":"rgba(255,255,255,0)"},{"offset":0.64,"color":"rgba(255,255,255,0)"},
{"offset":0.64,"color":"rgba(255,255,255,0.8)"},{"offset":0.655,"color":"rgba(255,255,255,0.8)"},{"offset":0.655,"color":"rgba(255,255,255,0)"},{"offset":0.68,"color":"rgba(255,255,255,0)"},
{"offset":0.68,"color":"rgba(255,255,255,0.8)"},{"offset":0.695,"color":"rgba(255,255,255,0.8)"},{"offset":0.695,"color":"rgba(255,255,255,0)"},{"offset":0.72,"color":"rgba(255,255,255,0)"},
{"offset":0.72,"color":"rgba(255,255,255,0.8)"},{"offset":0.735,"color":"rgba(255,255,255,0.8)"},{"offset":0.735,"color":"rgba(255,255,255,0)"},{"offset":0.76,"color":"rgba(255,255,255,0)"},
{"offset":0.76,"color":"rgba(255,255,255,0.8)"},{"offset":0.775,"color":"rgba(255,255,255,0.8)"},{"offset":0.775,"color":"rgba(255,255,255,0)"},{"offset":0.8,"color":"rgba(255,255,255,0)"},
{"offset":0.8,"color":"rgba(255,255,255,0.8)"},{"offset":0.815,"color":"rgba(255,255,255,0.8)"},{"offset":0.815,"color":"rgba(255,255,255,0)"},{"offset":0.84,"color":"rgba(255,255,255,0)"},
{"offset":0.84,"color":"rgba(255,255,255,0.8)"},{"offset":0.855,"color":"rgba(255,255,255,0.8)"},{"offset":0.855,"color":"rgba(255,255,255,0)"},{"offset":0.88,"color":"rgba(255,255,255,0)"},
{"offset":0.88,"color":"rgba(255,255,255,0.8)"},{"offset":0.895,"color":"rgba(255,255,255,0.8)"},{"offset":0.895,"color":"rgba(255,255,255,0)"},{"offset":0.92,"color":"rgba(255,255,255,0)"},
{"offset":0.92,"color":"rgba(255,255,255,0.8)"},{"offset":0.935,"color":"rgba(255,255,255,0.8)"},{"offset":0.935,"color":"rgba(255,255,255,0)"},{"offset":0.96,"color":"rgba(255,255,255,0)"},
{"offset":0.96,"color":"rgba(255,255,255,0.8)"},{"offset":0.975,"color":"rgba(255,255,255,0.8)"},{"offset":0.975,"color":"rgba(255,255,255,0)"},{"offset":1,"color":"rgba(255,255,255,0)"}
]}},
"s03":{"color":{"gradient":"linear","x1":0,"y1":0,"x2":0,"y2":1,"stops":[
{"offset":0,"color":"#5a8fcb"},{"offset":0.035,"color":"#5a8fcb"},{"offset":0.035,"color":"#e4edf8"},{"offset":0.05,"color":"#e4edf8"},
{"offset":0.05,"color":"#5a8fcb"},{"offset":0.085,"color":"#5a8fcb"},{"offset":0.085,"color":"#e4edf8"},{"offset":0.1,"color":"#e4edf8"},
{"offset":0.1,"color":"#5a8fcb"},{"offset":0.135,"color":"#5a8fcb"},{"offset":0.135,"color":"#e4edf8"},{"offset":0.15,"color":"#e4edf8"},
{"offset":0.15,"color":"#5a8fcb"},{"offset":0.185,"color":"#5a8fcb"},{"offset":0.185,"color":"#e4edf8"},{"offset":0.2,"color":"#e4edf8"},
{"offset":0.2,"color":"#5a8fcb"},{"offset":0.235,"color":"#5a8fcb"},{"offset":0.235,"color":"#e4edf8"},{"offset":0.25,"color":"#e4edf8"},
{"offset":0.25,"color":"#5a8fcb"},{"offset":0.285,"color":"#5a8fcb"},{"offset":0.285,"color":"#e4edf8"},{"offset":0.3,"color":"#e4edf8"},
{"offset":0.3,"color":"#5a8fcb"},{"offset":0.335,"color":"#5a8fcb"},{"offset":0.335,"color":"#e4edf8"},{"offset":0.35,"color":"#e4edf8"},
{"offset":0.35,"color":"#5a8fcb"},{"offset":0.385,"color":"#5a8fcb"},{"offset":0.385,"color":"#e4edf8"},{"offset":0.4,"color":"#e4edf8"},
{"offset":0.4,"color":"#5a8fcb"},{"offset":0.435,"color":"#5a8fcb"},{"offset":0.435,"color":"#e4edf8"},{"offset":0.45,"color":"#e4edf8"},
{"offset":0.45,"color":"#5a8fcb"},{"offset":0.485,"color":"#5a8fcb"},{"offset":0.485,"color":"#e4edf8"},{"offset":0.5,"color":"#e4edf8"},
{"offset":0.5,"color":"#5a8fcb"},{"offset":0.535,"color":"#5a8fcb"},{"offset":0.535,"color":"#e4edf8"},{"offset":0.55,"color":"#e4edf8"},
{"offset":0.55,"color":"#5a8fcb"},{"offset":0.585,"color":"#5a8fcb"},{"offset":0.585,"color":"#e4edf8"},{"offset":0.6,"color":"#e4edf8"},
{"offset":0.6,"color":"#5a8fcb"},{"offset":0.635,"color":"#5a8fcb"},{"offset":0.635,"color":"#e4edf8"},{"offset":0.65,"color":"#e4edf8"},
{"offset":0.65,"color":"#5a8fcb"},{"offset":0.685,"color":"#5a8fcb"},{"offset":0.685,"color":"#e4edf8"},{"offset":0.7,"color":"#e4edf8"},
{"offset":0.7,"color":"#5a8fcb"},{"offset":0.735,"color":"#5a8fcb"},{"offset":0.735,"color":"#e4edf8"},{"offset":0.75,"color":"#e4edf8"},
{"offset":0.75,"color":"#5a8fcb"},{"offset":0.785,"color":"#5a8fcb"},{"offset":0.785,"color":"#e4edf8"},{"offset":0.8,"color":"#e4edf8"},
{"offset":0.8,"color":"#5a8fcb"},{"offset":0.835,"color":"#5a8fcb"},{"offset":0.835,"color":"#e4edf8"},{"offset":0.85,"color":"#e4edf8"},
{"offset":0.85,"color":"#5a8fcb"},{"offset":0.885,"color":"#5a8fcb"},{"offset":0.885,"color":"#e4edf8"},{"offset":0.9,"color":"#e4edf8"},
{"offset":0.9,"color":"#5a8fcb"},{"offset":0.935,"color":"#5a8fcb"},{"offset":0.935,"color":"#e4edf8"},{"offset":0.95,"color":"#e4edf8"},
{"offset":0.95,"color":"#5a8fcb"},{"offset":1,"color":"#5a8fcb"}
]}},
"s1":{"color":{"gradient":"linear","x1":0,"y1":0,"x2":1,"y2":0,"stops":[
{"offset":0,"color":"#eaa27c"},{"offset":0.06,"color":"#eaa27c"},{"offset":0.06,"color":"#7b2e0e"},{"offset":0.2,"color":"#7b2e0e"},
{"offset":0.2,"color":"#eaa27c"},{"offset":0.26,"color":"#eaa27c"},{"offset":0.26,"color":"#7b2e0e"},{"offset":0.4,"color":"#7b2e0e"},
{"offset":0.4,"color":"#eaa27c"},{"offset":0.46,"color":"#eaa27c"},{"offset":0.46,"color":"#7b2e0e"},{"offset":0.6,"color":"#7b2e0e"},
{"offset":0.6,"color":"#eaa27c"},{"offset":0.66,"color":"#eaa27c"},{"offset":0.66,"color":"#7b2e0e"},{"offset":0.8,"color":"#7b2e0e"},
{"offset":0.8,"color":"#eaa27c"},{"offset":0.86,"color":"#eaa27c"},{"offset":0.86,"color":"#7b2e0e"},{"offset":0.96,"color":"#7b2e0e"},
{"offset":0.96,"color":"#eaa27c"},{"offset":1,"color":"#eaa27c"}
]}}
}
}
}
